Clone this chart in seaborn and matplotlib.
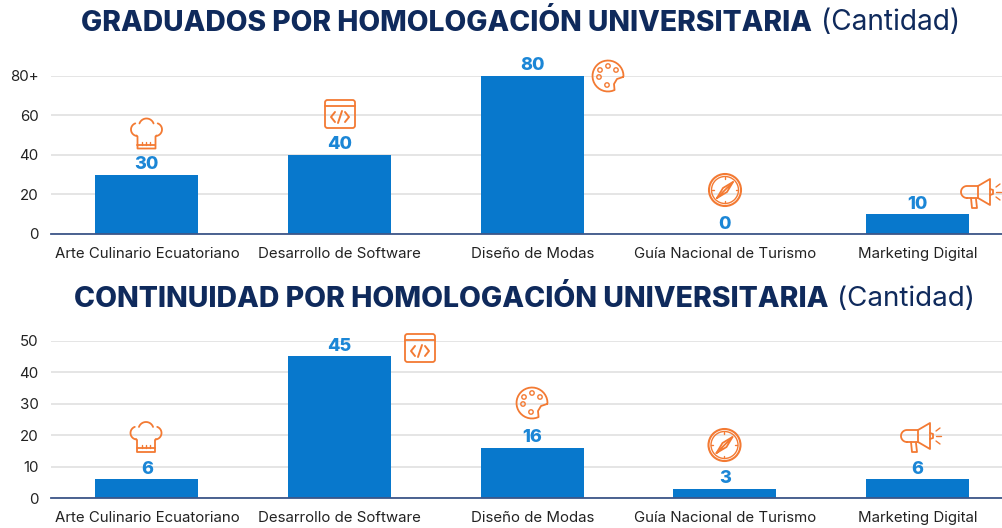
import matplotlib
matplotlib.use("Agg")
import matplotlib.pyplot as plt
import seaborn as sns
import pandas as pd
import numpy as np
from matplotlib.patches import Circle, FancyBboxPatch

carreras = ["Arte Culinario Ecuatoriano", "Desarrollo de Software", "Diseño de Modas",
            "Guía Nacional de Turismo", "Marketing Digital"]
graduados = [30, 40, 80, 0, 10]
continuidad = [6, 45, 16, 3, 6]
ticks_graduados = [0, 20, 40, 60, 80]
labels_graduados = ["0", "20", "40", "60", "80+"]
ticks_continuidad = [0, 10, 20, 30, 40, 50]
titulo_1 = "GRADUADOS POR HOMOLOGACIÓN UNIVERSITARIA"
titulo_2 = "CONTINUIDAD POR HOMOLOGACIÓN UNIVERSITARIA"
titulo_resto = "(Cantidad)"

AZUL = "#0878CC"
AZUL_TXT = "#1B86D6"
NAVY = "#0F2A5C"
NARANJA = "#F37A33"
GRIS = "#E3E3E3"
W, H = 1003, 528
FUENTE = "Inter"

sns.set_theme(style="whitegrid")
plt.rcParams["font.family"] = [FUENTE, "DejaVu Sans"]

fig = plt.figure(figsize=(W / 100, H / 100), dpi=100, facecolor="white")


def panel(valores, y_top, y_base, ymax, ticks, labels):
    ax = fig.add_axes([51 / W, 1 - y_base / H, (W - 51) / W, (y_base - y_top) / H])
    df = pd.DataFrame({"carrera": carreras, "valor": valores})
    sns.barplot(data=df, x="carrera", y="valor", color=AZUL, saturation=1, width=0.535,
                linewidth=0, ax=ax, zorder=3)
    ax.set_xlim(-0.498, 4.444)
    ax.set_ylim(0, ymax)
    ax.set_yticks(ticks)
    ax.set_yticklabels(labels)
    ax.set_xlabel("")
    ax.set_ylabel("")
    ax.grid(axis="y", color=GRIS, lw=1.3)
    ax.grid(axis="x", visible=False)
    ax.set_axisbelow(True)
    for s in ["top", "left", "right"]:
        ax.spines[s].set_visible(False)
    ax.spines["bottom"].set_color("#3D5688")
    ax.spines["bottom"].set_linewidth(1.3)
    ax.spines["bottom"].set_zorder(5)
    ax.tick_params(axis="both", length=0, labelsize=10.8, labelcolor="#222222")
    ax.tick_params(axis="x", pad=9.5)
    ax.tick_params(axis="y", pad=9)
    ax.bar_label(ax.containers[0], padding=1, fontsize=13, fontweight="heavy", color=AZUL_TXT)
    for t in ax.texts:
        t.set_clip_on(False)
    return ax


def titulo(texto, x0, y, size_b, size_r):
    t1 = fig.text(x0 / W, 1 - y / H, texto, fontsize=size_b, fontweight="heavy", color=NAVY, va="center")
    fig.canvas.draw()
    fin = t1.get_window_extent().x1
    fig.text((fin + 9) / W, 1 - y / H, titulo_resto, fontsize=size_r, color=NAVY, va="center")


panel(graduados, 75.6, 234, 80, ticks_graduados, labels_graduados)
panel(continuidad, 340.6, 498.3, 50, ticks_continuidad, [str(t) for t in ticks_continuidad])
titulo(titulo_1, 81, 23, 20.3, 20.2)
titulo(titulo_2, 74, 299, 20.45, 20.0)

# iconos decorativos, en pixeles de la figura
capa = fig.add_axes([0, 0, 1, 1], zorder=10)
capa.set_xlim(0, W)
capa.set_ylim(H, 0)
capa.axis("off")
capa.patch.set_alpha(0)
LW = 1.3


def linea(xs, ys, lw=LW):
    capa.plot(xs, ys, color=NARANJA, lw=lw, solid_capstyle="round", solid_joinstyle="round")


def arco(cx, cy, r, a0, a1):
    a = np.radians(np.linspace(a0, a1, 30))
    return cx + r * np.cos(a), cy + r * np.sin(a)


def circulo(cx, cy, r, lw=LW):
    capa.add_patch(Circle((cx, cy), r, fill=False, ec=NARANJA, lw=lw))


def gorro(cx, cy):
    for c in [(-9, -5, 6.5, 100, 250), (0, -8.5, 7.5, 200, 340), (9, -5, 6.5, -70, 80)]:
        x, y = arco(cx + c[0], cy + c[1], c[2], c[3], c[4])
        linea(x, y)
    linea([cx - 10, cx - 9, cx - 9, cx + 9, cx + 9, cx + 10],
          [cy + 1, cy + 2, cy + 14, cy + 14, cy + 2, cy + 1])
    linea([cx - 9, cx + 9], [cy + 10, cy + 10])
    for d in [-4, 0, 4]:
        linea([cx + d, cx + d], [cy + 7, cy + 10], lw=1)


def codigo(cx, cy):
    capa.add_patch(FancyBboxPatch((cx - 15, cy - 14), 30, 28, boxstyle="round,pad=0,rounding_size=2.5",
                                  fill=False, ec=NARANJA, lw=LW))
    linea([cx - 15, cx + 15], [cy - 8, cy - 8])
    for d in [-12, -9, -6]:
        linea([cx + d, cx + d + 0.5], [cy - 11, cy - 11], lw=1)
    linea([cx - 5, cx - 9, cx - 5], [cy - 2, cy + 3, cy + 8], lw=1.4)
    linea([cx + 5, cx + 9, cx + 5], [cy - 2, cy + 3, cy + 8], lw=1.4)
    linea([cx + 2, cx - 2], [cy - 3, cy + 9], lw=1.4)


def paleta(cx, cy):
    x, y = arco(cx, cy, 15.5, 0, -295)
    xs = [cx + 15] + list(x) + [cx + 6, cx + 9, cx + 15]
    ys = [cy + 1] + list(y) + [cy + 8, cy + 3, cy + 1]
    linea(xs, ys)
    for dx, dy in [(-8, -6), (0, -10), (8, -6), (-9, 1), (-1, 9)]:
        circulo(cx + dx, cy + dy, 2.2, lw=1)


def brujula(cx, cy):
    circulo(cx, cy, 16, lw=1.5)
    circulo(cx, cy, 13.5, lw=1)
    linea([cx - 8, cx + 8, cx + 2, cx - 8], [cy + 8, cy - 8, cy + 2, cy + 8])
    linea([cx - 8, cx - 2, cx + 8], [cy + 8, cy - 2, cy - 8])
    for a in range(0, 360, 90):
        x, y = np.cos(np.radians(a)), np.sin(np.radians(a))
        linea([cx + 11 * x, cx + 13 * x], [cy + 11 * y, cy + 13 * y], lw=1)


def megafono(cx, cy):
    x, y = arco(cx - 16, cy - 1, 6, 90, 270)
    linea(list(x) + [cx - 5, cx + 7, cx + 7, cx - 5, cx - 16],
          list(y) + [cy - 7, cy - 14, cy + 12, cy + 5, cy + 5])
    linea([cx - 5, cx - 5], [cy - 7, cy + 5])
    linea([cx - 12, cx - 11, cx - 6, cx - 7], [cy + 5, cy + 15, cy + 15, cy + 6])
    linea([cx + 7, cx + 10, cx + 10, cx + 7], [cy - 4, cy - 3, cy + 1, cy + 2])
    linea([cx + 13, cx + 17], [cy - 6, cy - 9], lw=1)
    linea([cx + 13, cx + 18], [cy - 1, cy - 1], lw=1)
    linea([cx + 13, cx + 17], [cy + 4, cy + 7], lw=1)


gorro(146.5, 134.5)
codigo(340, 114)
paleta(608, 76)
brujula(725, 190)
megafono(983, 193)
gorro(146, 438)
codigo(420, 348)
paleta(532, 403)
brujula(724.5, 445)
megafono(923, 437)

fig.savefig("out.png", dpi=100)
